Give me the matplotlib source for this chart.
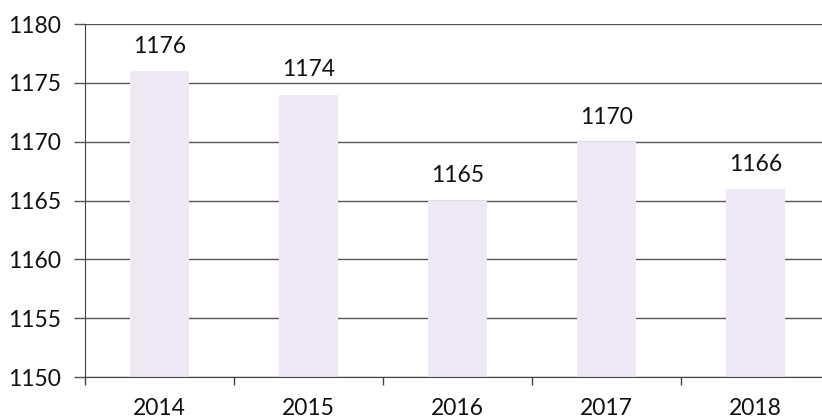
import matplotlib
matplotlib.use("Agg")
import matplotlib.pyplot as plt
import numpy as np

years = ["2014", "2015", "2016", "2017", "2018"]
values = [1176, 1174, 1165, 1170, 1166]
yticks = [1150, 1155, 1160, 1165, 1170, 1175, 1180]

plt.rcParams['font.family'] = ['Lato', 'DejaVu Sans']

fig = plt.figure(figsize=(8.22, 4.18), dpi=100)
ax = fig.add_axes([85/822, 1 - 377/418, (830 - 85)/822, (377 - 24)/418])

x = np.arange(len(years))
ax.bar(x, np.array(values) - 1150, bottom=1150, width=0.39, color="#EEE8F6", zorder=2)
for xi, v in zip(x, values):
    ax.text(xi, v + 1.2, str(v), ha="center", va="bottom", fontsize=16.5, color="#111111", zorder=3)

ax.set_xlim(-0.5, len(years) - 0.5)
ax.set_ylim(1150, 1180)
ax.set_yticks(yticks)
ax.set_yticklabels([str(t) for t in yticks], fontsize=16.5, color="#111111")
ax.yaxis.grid(True, color="#555555", linewidth=1.0, zorder=1)
ax.set_axisbelow(True)

ax.set_xticks(x)
ax.set_xticklabels(years, fontsize=16.5, color="#111111")
ax.tick_params(axis="x", length=0, pad=15)
ax.set_xticks(np.arange(-0.5, len(years) + 0.5, 1), minor=True)
ax.tick_params(axis="x", which="minor", length=6, color="#444444", width=1)
ax.tick_params(axis="y", length=8, color="#555555", width=1, pad=9)

for s in ["top", "right"]:
    ax.spines[s].set_visible(False)
ax.spines["left"].set_color("#444444")
ax.spines["bottom"].set_color("#444444")

fig.savefig("out.png", dpi=100)
